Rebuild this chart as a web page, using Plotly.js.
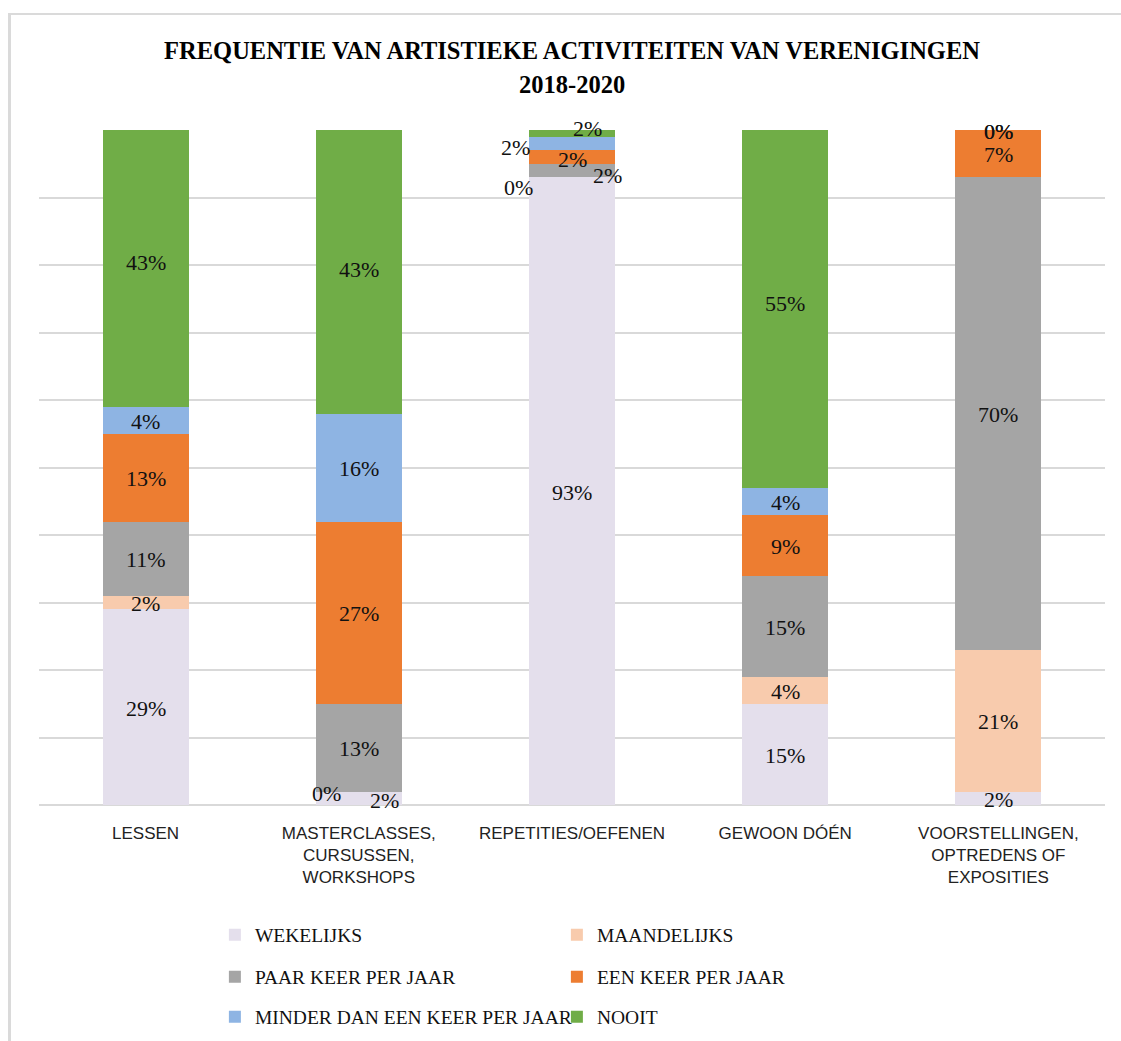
<!DOCTYPE html>
<html>
<head>
<meta charset="utf-8">
<script src="https://cdn.plot.ly/plotly-3.0.1.min.js"></script>
<style>
  html, body { margin: 0; padding: 0; background: #ffffff; }
  #wrap { position: relative; width: 1121px; height: 1041px; overflow: hidden; }
  #chart { position: absolute; left: 0; top: 0; width: 1121px; height: 1041px; }
  #frame { position: absolute; left: 8px; top: 13px; width: 1200px; height: 1100px;
           border-left: 3px solid #dadada; border-top: 2px solid #dadada; pointer-events: none; }
</style>
</head>
<body>
<div id="wrap">
  <div id="chart"></div>
  <div id="frame"></div>
</div>
<script>
// ---- data ----
const categories = ['LESSEN', 'MASTERCLASSES, CURSUSSEN, WORKSHOPS', 'REPETITIES/OEFENEN', 'GEWOON DÓÉN', 'VOORSTELLINGEN, OPTREDENS OF EXPOSITIES'];
const tickLabels = ['LESSEN', 'MASTERCLASSES,<br>CURSUSSEN,<br>WORKSHOPS', 'REPETITIES/OEFENEN', 'GEWOON DÓÉN', 'VOORSTELLINGEN,<br>OPTREDENS OF<br>EXPOSITIES'];
const seriesNames = ['WEKELIJKS', 'MAANDELIJKS', 'PAAR KEER PER JAAR', 'EEN KEER PER JAAR', 'MINDER DAN EEN KEER PER JAAR', 'NOOIT'];
const wekelijks   = [29, 2, 93, 15, 2];
const maandelijks = [2, 0, 0, 4, 21];
const paarKeer    = [11, 13, 2, 15, 70];
const eenKeer     = [13, 27, 2, 9, 7];
const minderDan   = [4, 16, 2, 4, 0];
const nooit       = [43, 43, 2, 55, 0];
const titleLine1 = 'FREQUENTIE VAN ARTISTIEKE ACTIVITEITEN VAN VERENIGINGEN';
const titleLine2 = '2018-2020';

// ---- styles ----
const series = [wekelijks, maandelijks, paarKeer, eenKeer, minderDan, nooit];
const colors = ['#E4DFEC', '#F8CBAD', '#A5A5A5', '#ED7D31', '#8EB4E3', '#70AD47'];
const legendIds = ['legend', 'legend', 'legend2', 'legend2', 'legend3', 'legend3'];
const serifFont = 'Liberation Serif, Times New Roman, serif';
const sansFont = 'Liberation Sans, Arial, sans-serif';

// manual label displacements (pixels) for crowded small segments: key = seriesIndex|categoryIndex
const labelShift = {
  '0|1': [26, -2],
  '1|1': [-32, -1.5],
  '1|2': [-53.5, -10],
  '2|2': [35.5, -4.5],
  '3|2': [0, -2],
  '4|2': [-56.5, -3.5],
  '5|2': [15.5, 2]
};

const traces = series.map((vals, i) => ({
  type: 'bar',
  name: seriesNames[i],
  x: categories,
  y: vals,
  marker: { color: colors[i], line: { width: 0 } },
  legend: legendIds[i],
  hoverinfo: 'name+y'
}));

const annotations = [];
categories.forEach((cat, j) => {
  let base = 0;
  series.forEach((vals, i) => {
    const v = vals[j];
    const s = labelShift[i + '|' + j] || [0, -1];
    annotations.push({
      x: cat, y: base + v / 2, xref: 'x', yref: 'y',
      text: v + '%', showarrow: false,
      xanchor: 'center', yanchor: 'middle',
      xshift: s[0], yshift: s[1],
      font: { family: serifFont, size: 22, color: '#111111' }
    });
    base += v;
  });
});
annotations.push({
  x: 0.5, y: 1.0667, xref: 'paper', yref: 'paper',
  text: '<b>' + titleLine2 + '</b>', showarrow: false,
  xanchor: 'center', yanchor: 'middle',
  font: { family: serifFont, size: 24.5, color: '#000000' }
});

const legendBase = {
  orientation: 'h', xanchor: 'left', yanchor: 'middle', x: 0.165,
  entrywidth: 297, entrywidthmode: 'pixels',
  bgcolor: 'rgba(0,0,0,0)', borderwidth: 0,
  font: { family: serifFont, size: 19.5, color: '#111111' },
  traceorder: 'normal'
};

const layout = {
  width: 1121, height: 1041,
  margin: { l: 39, r: 16, t: 130, b: 236, autoexpand: false },
  paper_bgcolor: '#ffffff', plot_bgcolor: '#ffffff',
  barmode: 'stack', bargap: 0.597,
  title: {
    text: '<b>' + titleLine1 + '</b>',
    x: 0.5, xanchor: 'center', xref: 'paper',
    y: 1 - 50 / 1041, yanchor: 'middle', yref: 'container',
    font: { family: serifFont, size: 24.5, color: '#000000' }
  },
  xaxis: {
    type: 'category', tickvals: categories, ticktext: tickLabels,
    showgrid: false, showline: false, zeroline: false, ticks: '',
    tickfont: { family: sansFont, size: 17, color: '#222222' },
    ticklabelstandoff: 16, automargin: false
  },
  yaxis: {
    range: [0, 100], dtick: 10, showticklabels: false, ticks: '',
    showgrid: true, gridcolor: '#d9d9d9', gridwidth: 2,
    zeroline: true, zerolinecolor: '#d9d9d9', zerolinewidth: 2,
    showline: false, fixedrange: true, automargin: false
  },
  legend: Object.assign({}, legendBase, { y: (805 - 935) / 675 }),
  legend2: Object.assign({}, legendBase, { y: (805 - 977) / 675 }),
  legend3: Object.assign({}, legendBase, { y: (805 - 1017) / 675 }),
  annotations: annotations,
  showlegend: true
};

Plotly.newPlot('chart', traces, layout, { displayModeBar: false, staticPlot: true });
</script>
</body>
</html>
